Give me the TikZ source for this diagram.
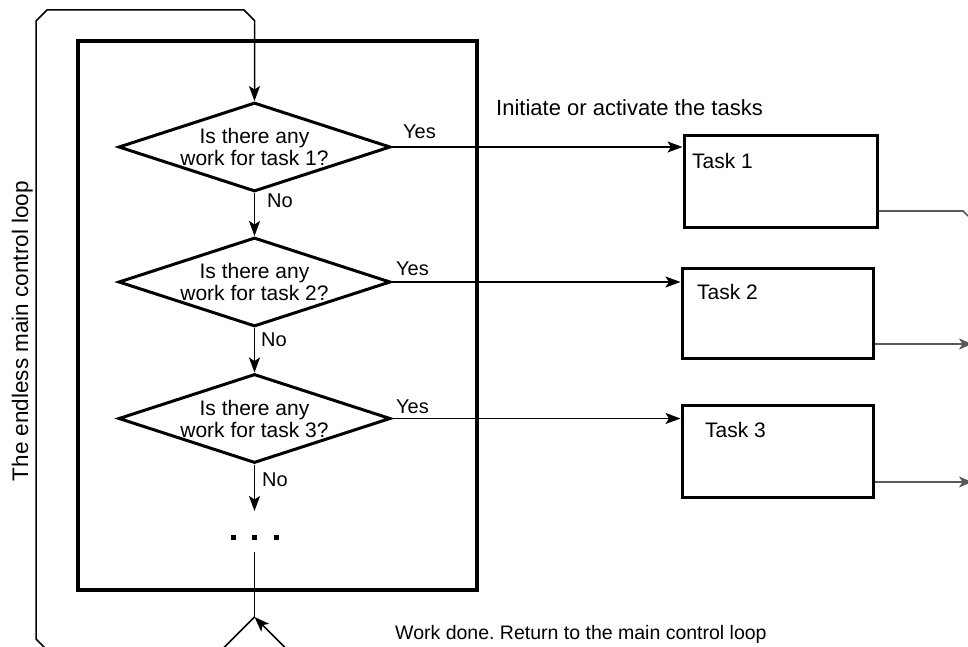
\documentclass[tikz,border=0pt]{standalone}
\usepackage{fontspec}
\setmainfont{Liberation Sans}
\usetikzlibrary{shapes.geometric,arrows.meta}
\frenchspacing
\begin{document}
\begin{tikzpicture}[x=1pt,y=1pt,
  dia/.style={diamond, draw, line width=3pt, minimum width=272pt, minimum height=89pt, inner sep=0pt},
  dtext/.style={align=center, font=\fontsize{21}{22}\selectfont, inner sep=0pt},
  taskbox/.style={rectangle, draw, line width=3pt, inner sep=0pt},
  lbl/.style={font=\fontsize{20}{22}\selectfont, inner sep=0pt, anchor=base west},
  tlbl/.style={font=\fontsize{21}{22}\selectfont, inner sep=0pt, anchor=base west},
  arr/.style={-{Stealth[length=15pt,width=11pt,inset=3.5pt]}, line width=1.7pt},
  plain/.style={line width=1.7pt},
  exitln/.style={line width=1.6pt, draw=black!65},
  dotsq/.style={rectangle, fill=black, minimum size=5pt, inner sep=0pt}
]
\useasboundingbox (0,0) rectangle (968,-647);

% main control box
\node[draw, line width=3.2pt, minimum width=399pt, minimum height=549pt, inner sep=0pt] (main) at (277.5,-315.5) {};

% diamonds
\node[dia] (d1) at (254.5,-147) {};
\node[dtext] at (d1) {Is there any\\work for task 1?};
\node[dia] (d2) at (254.5,-282) {};
\node[dtext] at (d2) {Is there any\\work for task 2?};
\node[dia] (d3) at (254.5,-418.5) {};
\node[dtext] at (d3) {Is there any\\work for task 3?};

% task boxes
\node[taskbox, minimum width=193pt, minimum height=91pt] (t1) at (780.5,-181.5) {};
\node[tlbl] at (692,-168) {Task 1};
\node[taskbox, minimum width=191pt, minimum height=90pt] (t2) at (777.5,-313) {};
\node[tlbl] at (697,-299) {Task 2};
\node[taskbox, minimum width=191pt, minimum height=92pt] (t3) at (777.5,-451) {};
\node[tlbl] at (705,-437) {Task 3};

% loop line from bottom left around to the first decision
\draw[arr, line width=1.5pt] (47,-650) -- (36,-639) -- (36,-21) -- (47,-10) -- (244,-10) -- (254.5,-20.5) -- (d1.north);

% No branches
\draw[arr] (d1.south) -- (d2.north);
\draw[arr] (d2.south) -- (d3.north);
\coordinate (nend) at (254.5,-511);
\draw[arr] (d3.south) -- (nend);
\node[lbl] at (267,-207) {No};
\node[lbl] at (261,-346) {No};
\node[lbl] at (262,-486) {No};

% dots
\node[dotsq] (p1) at (233,-537) {};
\node[dotsq] (p2) at (254.5,-537) {};
\node[dotsq] (p3) at (276,-537) {};

% return line at bottom
\coordinate (rtop) at (254.5,-552);
\coordinate (apex) at (254.5,-617);
\coordinate (rleft) at (221.5,-650);
\coordinate (rright) at (287.5,-650);
\draw[plain] (rtop) -- (apex);
\draw[plain] (apex) -- (rleft);
\draw[arr] (rright) -- (apex);

% Yes branches
\draw[arr] (d1.east) -- (d1.east -| t1.west);
\draw[arr] (d2.east) -- (d2.east -| t2.west);
\draw[arr] (d3.east) -- (d3.east -| t3.west);
\node[lbl] at (403,-139) {Yes};
\node[lbl] at (396,-275) {Yes};
\node[lbl] at (396,-413) {Yes};

% exits of the tasks
\coordinate (x1) at (963,-211);
\coordinate (x1b) at (968,-216);
\draw[exitln] (t1.east |- x1) -- (x1) -- (x1b);
\coordinate (x2) at (972,-344);
\draw[exitln, -{Stealth[length=13pt,width=11pt,inset=3.5pt]}] (t2.east |- x2) -- (x2);
\coordinate (x3) at (972,-482);
\draw[exitln, -{Stealth[length=13pt,width=11pt,inset=3.5pt]}] (t3.east |- x3) -- (x3);

% texts
\node[font=\fontsize{22}{24}\selectfont, inner sep=0pt, anchor=base west] (init) at (496,-116) {Initiate or activate the tasks};
\node[font=\fontsize{19.5}{22}\selectfont, inner sep=0pt, anchor=base west] (done) at (395,-639) {Work done. Return to the main control loop};
\node[font=\fontsize{22.5}{24}\selectfont, inner sep=0pt, anchor=base, rotate=90] (loopl) at (28,-331) {The endless main control loop};
\end{tikzpicture}
\end{document}
